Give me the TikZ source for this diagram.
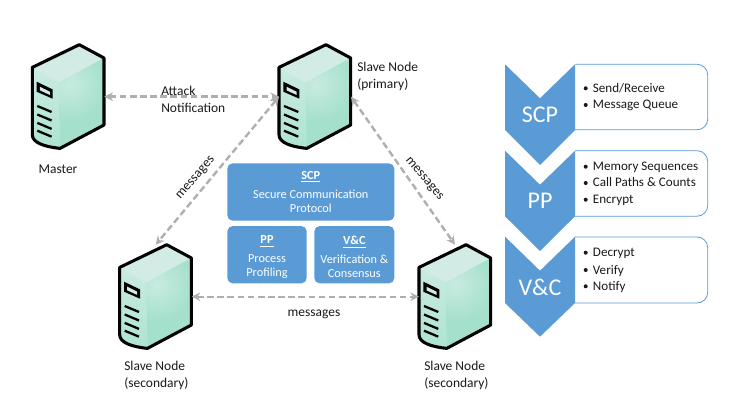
\documentclass[tikz,border=0pt]{standalone}
\usepackage{fontspec}
\setmainfont{Carlito}
\definecolor{boxblue}{HTML}{5B9BD5}
\definecolor{linkgray}{HTML}{AFAFAF}
\definecolor{textblack}{HTML}{1A1A1A}
\definecolor{mintpale}{HTML}{D2ECE5}
\definecolor{mintlow}{HTML}{ADE4D2}
\definecolor{mintglow}{HTML}{C8EBE0}
\definecolor{mintdeep}{HTML}{A5E0CD}
\usetikzlibrary{arrows.meta}
\tikzset{
  x=0.75pt, y=-0.75pt,
  label text/.style={font=\fontsize{10.1}{12.75}\selectfont, text=textblack, inner sep=0pt, align=left},
  serverbox/.style={minimum width=54pt, minimum height=78pt, inner sep=0pt, outer sep=0pt},
  link/.style={draw=linkgray, line width=1.8pt, dash pattern=on 5pt off 2.6pt,
    {Stealth[length=6.5pt,width=6.5pt]}-{Stealth[length=6.5pt,width=6.5pt]}, shorten <=0pt, shorten >=0pt},
  panel/.style={fill=boxblue, draw=none, rounded corners=4pt, text=white, align=center, inner sep=0pt,
    font=\fontsize{9.2}{10.5}\selectfont},
  chevron/.style={fill=boxblue, draw=none},
  chevron label/.style={text=white, inner sep=0pt, font=\fontsize{18}{20}\selectfont},
  listbox/.style={fill=white, draw=boxblue, line width=0.6pt},
  list item/.style={font=\fontsize{9.8}{12.4}\selectfont, text=textblack, inner sep=0pt, anchor=west},
  pics/server/.style={code={
    % silhouette with the pale top and front faces
    \path[top color=mintpale, bottom color=mintlow]
      (0,0) -- (24.7,13.3) -- (24.7,80.3) -- (-19.3,103.7)
      .. controls (-35,102) and (-47,98) .. (-47,90) -- (-47,22.7) -- cycle;
    \fill[mintpale] (0,0) -- (24.7,13.3) -- (-20,38) -- (-47,22.7) -- cycle;
    % shaded right-hand face
    \begin{scope}
      \clip (-20,38) -- (24.7,13.3) -- (24.7,80.3) -- (-19.3,103.7) -- cycle;
      \fill[mintdeep] (-25,5) rectangle (30,110);
      \shade[inner color=mintglow, outer color=mintdeep] (-10,40) circle[radius=36];
    \end{scope}
    % outline
    \draw[black, line width=2.3pt, line join=round]
      (0,0) -- (24.7,13.3) -- (24.7,80.3) -- (-19.3,103.7)
      .. controls (-35,102) and (-47,98) .. (-47,90) -- (-47,22.7) -- cycle;
    % drive bay
    \fill[black] (-42.7,37) -- (-26.7,44.7) -- (-26.7,54) -- (-42.7,47) -- cycle;
    \fill[mintpale] (-39.5,42) -- (-29.5,47) -- (-29.5,50.2) -- (-39.5,45.6) -- cycle;
    % vents
    \foreach \v in {61.3,69.8,78.2,86}
      \draw[black, line width=1.7pt] (-42,\v) -- (-27.7,\v+6);
  }},
}
\begin{document}
\begin{tikzpicture}
\useasboundingbox (0,0) rectangle (734,413);

% servers
\pic at (79.3,44.7) {server};
\pic at (326,44.7) {server};
\pic at (166.7,244.7) {server};
\pic at (466,244.7) {server};
\node[serverbox] (master) at (68.3,96.7) {};
\node[serverbox] (primary) at (315,96.7) {};
\node[serverbox] (secleft) at (155.7,296.7) {};
\node[serverbox] (secright) at (455,296.7) {};

% connectors
\draw[link] (master.east) -- (primary.west);
\draw[link] (primary.west) -- (secleft.north);
\draw[link] (primary.east) -- (secright.north);
\draw[link] (secleft.east) -- (secright.west);

% server and connector labels
\node[label text, anchor=center] (lblmaster) at (58,169) {Master};
\node[label text, anchor=north west] (lblprimary) at (357,62) {Slave Node\\(primary)};
\node[label text, anchor=north west] (lblsecl) at (124,361) {Slave Node\\(secondary)};
\node[label text, anchor=north west] (lblsecr) at (424,361) {Slave Node\\(secondary)};
\node[label text, anchor=north west] (lblattack) at (161,85.5) {Attack\\Notification};
\node[label text, anchor=center, rotate=49] (msgl) at (196,178) {messages};
\node[label text, anchor=center, rotate=-50] (msgr) at (424,179) {messages};
\node[label text, anchor=center] (msgb) at (314,314) {messages};

% central protocol panels
\node[panel, minimum width=125.3pt, minimum height=43pt] (pscp) at (310.8,192)
  {\underline{\textbf{SCP}}\\[3.5pt]Secure Communication\\Protocol};
\node[panel, minimum width=59.5pt, minimum height=43pt] (ppp) at (267,254.7)
  {\rule{0pt}{10pt}\underline{\textbf{PP}}\\[3.5pt]Process\\Profiling};
\node[panel, minimum width=60pt, minimum height=43pt] (pvc) at (354.3,254.7)
  {\rule{0pt}{10pt}\underline{\textbf{V\&C}}\\[3.5pt]Verification \&\\Consensus};

% detail lists on the right
\foreach \t/\b in {64.3/129.8, 150.7/216.2, 237/303}{
  \draw[listbox] (575,\t) [rounded corners=8pt] -- (707.7,\t) -- (707.7,\b) -- (575,\b);
}
\foreach \t/\b/\tip in {64.3/130/165, 150.7/216.3/251, 236.7/303/336.7}{
  \fill[chevron] (505,\t) -- (540,\t+34) -- (575,\t) -- (575,\b) -- (540,\tip) -- (505,\b) -- cycle;
}
\node[chevron label] (cscp) at (540,115) {SCP};
\node[chevron label] (cpp) at (540,201) {PP};
\node[chevron label] (cvc) at (540,287) {V\&C};

\foreach \n/\y/\s in {a/88.3/Send\slash Receive, b/105/Message Queue,
    c/166.7/Memory Sequences, d/183/Call Paths \& Counts, e/199.7/Encrypt,
    f/252.7/Decrypt, g/270/Verify, h/286.3/Notify}{
  \fill[textblack] (585.7,\y) circle[radius=1.5pt];
  \node[list item, anchor=base west] (item\n) at (592.7,\y+4) {\s};
}
\end{tikzpicture}
\end{document}
